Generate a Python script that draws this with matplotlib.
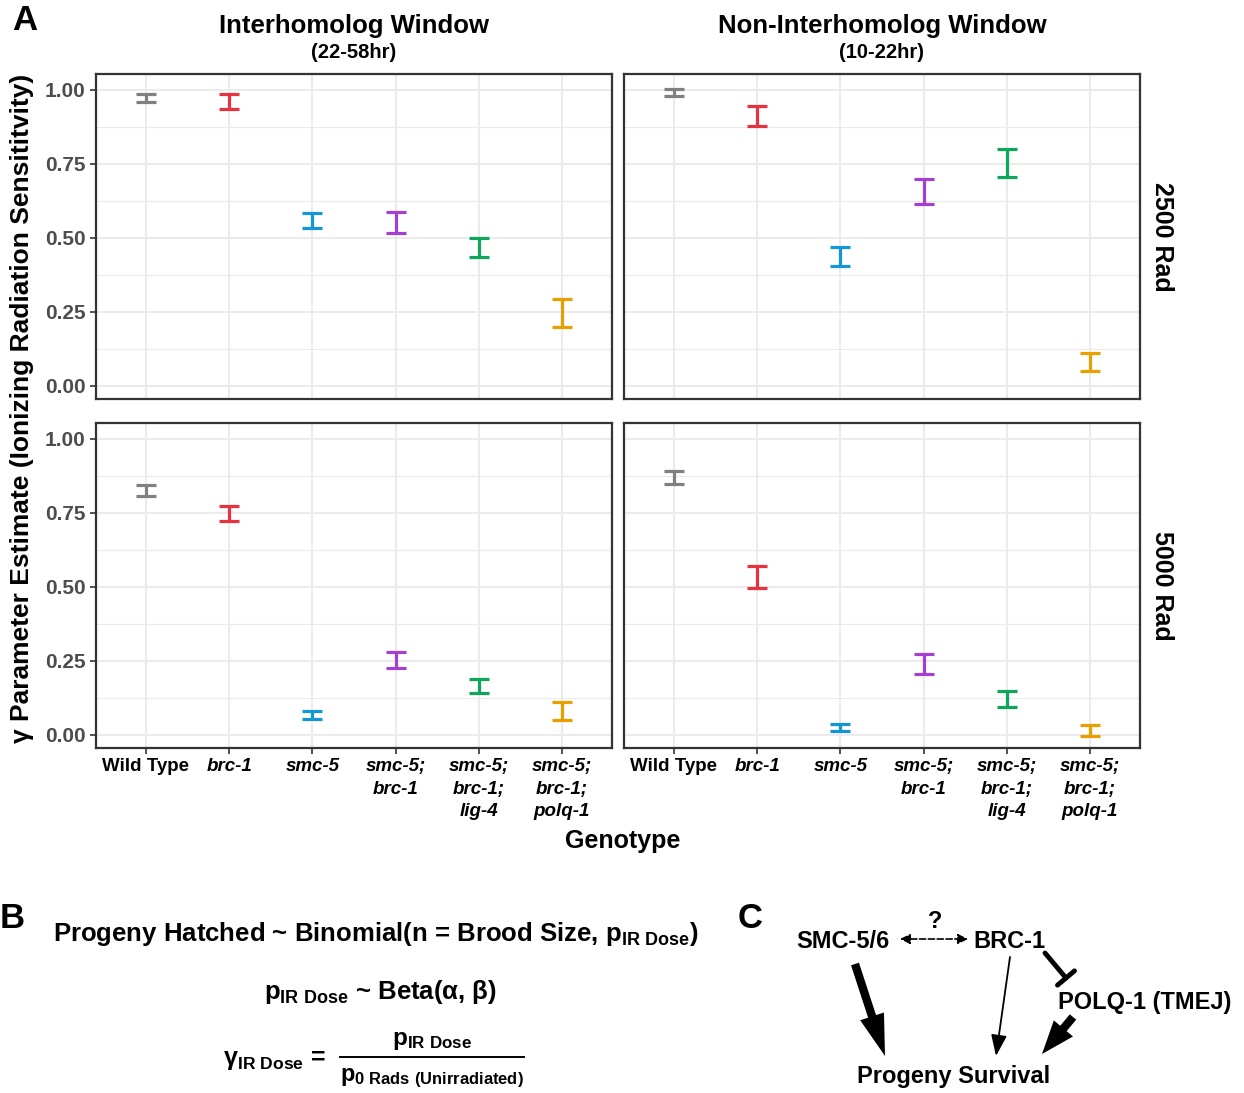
import numpy as np
import matplotlib
matplotlib.use("Agg")
from matplotlib import pyplot as plt

plt.rcParams['font.family'] = ['Liberation Sans', 'DejaVu Sans']
plt.rcParams['font.weight'] = 'bold'
plt.rcParams['mathtext.fontset'] = 'custom'
plt.rcParams['mathtext.rm'] = 'Liberation Sans:bold'
plt.rcParams['mathtext.bf'] = 'Liberation Sans:bold'
plt.rcParams['mathtext.it'] = 'Liberation Sans:bold:italic'

# genotypes (x axis)
genotypes = ["Wild Type", "brc-1", "smc-5", "smc-5;\nbrc-1",
             "smc-5;\nbrc-1;\nlig-4", "smc-5;\nbrc-1;\npolq-1"]
colors = ["#808080", "#E8333F", "#1496D6", "#A53FD2", "#0DA65B", "#E8A000"]

windows = ["Interhomolog Window", "Non-Interhomolog Window"]
window_hours = ["(22-58hr)", "(10-22hr)"]
doses = ["2500 Rad", "5000 Rad"]

# credible interval bounds (lower, upper) per panel
ih_2500_lo = [0.958, 0.936, 0.534, 0.517, 0.435, 0.198]
ih_2500_hi = [0.986, 0.986, 0.585, 0.587, 0.500, 0.292]
nih_2500_lo = [0.978, 0.877, 0.404, 0.614, 0.704, 0.048]
nih_2500_hi = [1.001, 0.944, 0.470, 0.698, 0.800, 0.111]
ih_5000_lo = [0.808, 0.722, 0.053, 0.226, 0.140, 0.051]
ih_5000_hi = [0.844, 0.774, 0.080, 0.281, 0.189, 0.109]
nih_5000_lo = [0.847, 0.496, 0.011, 0.205, 0.092, -0.003]
nih_5000_hi = [0.891, 0.571, 0.035, 0.273, 0.149, 0.034]

panels = {(0, 0): (ih_2500_lo, ih_2500_hi), (0, 1): (nih_2500_lo, nih_2500_hi),
          (1, 0): (ih_5000_lo, ih_5000_hi), (1, 1): (nih_5000_lo, nih_5000_hi)}

W, H = 1244, 1093
fig = plt.figure(figsize=(W / 100, H / 100), dpi=100)

lefts = [96, 624]
tops = [74, 423]
pw, ph = 516, 325

for (r, c), (lo, hi) in panels.items():
    ax = fig.add_axes([lefts[c] / W, 1 - (tops[r] + ph) / H, pw / W, ph / H])
    lo = np.array(lo)
    hi = np.array(hi)
    x = np.arange(1, len(genotypes) + 1)
    for i in range(len(x)):
        ax.errorbar(x[i], (lo[i] + hi[i]) / 2, yerr=(hi[i] - lo[i]) / 2, fmt='none',
                    ecolor=colors[i], elinewidth=2.3, capsize=7.5, capthick=2.3, zorder=3)
    ax.set_xlim(0.4, 6.6)
    ax.set_ylim(-0.045, 1.053)
    ax.set_yticks([0, 0.25, 0.5, 0.75, 1.0])
    ax.set_yticks([0.125, 0.375, 0.625, 0.875], minor=True)
    ax.set_xticks(x)
    ax.grid(which='major', color='#EBEBEB', lw=1.4, zorder=0)
    ax.grid(which='minor', axis='y', color='#EBEBEB', lw=0.8, zorder=0)
    ax.set_axisbelow(True)
    for s in ax.spines.values():
        s.set_color('#333333')
        s.set_linewidth(1.6)
    ax.tick_params(which='minor', length=0)
    ax.tick_params(which='major', color='#333333', length=4, width=1.2,
                   labelcolor='#4D4D4D', labelsize=15)
    if c == 0:
        ax.set_yticklabels(["0.00", "0.25", "0.50", "0.75", "1.00"], fontweight='bold')
    else:
        ax.tick_params(axis='y', length=0, labelleft=False)
    if r == 1:
        ax.set_xticklabels(genotypes, fontsize=13.5, color='black', va='top',
                           linespacing=1.4)
        for j, lab in enumerate(ax.get_xticklabels()):
            if j > 0:
                lab.set_style('italic')
    else:
        ax.tick_params(axis='x', length=0, labelbottom=False)
    if r == 0:
        cx = (lefts[c] + pw / 2) / W
        fig.text(cx, 1 - 26 / H, windows[c], ha='center', va='center', fontsize=18.5)
        fig.text(cx, 1 - 52 / H, window_hours[c], ha='center', va='center', fontsize=14.5)
    if c == 1:
        fig.text(1162 / W, 1 - (tops[r] + ph / 2) / H, doses[r], rotation=270,
                 ha='center', va='center', fontsize=18)

fig.text(22 / W, 1 - 408 / H, "γ Parameter Estimate (Ionizing Radiation Sensititvity)",
         rotation=90, ha='center', va='center', fontsize=19)
fig.text(623 / W, 1 - 841 / H, "Genotype", ha='center', va='center', fontsize=18)

# overlay in pixel coordinates for panel letters, B and C
ov = fig.add_axes([0, 0, 1, 1])
ov.set_xlim(0, W)
ov.set_ylim(H, 0)
ov.axis('off')

ov.text(12, 20, "A", fontsize=25, ha='left', va='center')
ov.text(0, 918, "B", fontsize=25, ha='left', va='center')
ov.text(738, 918, "C", fontsize=25, ha='left', va='center')

# panel B
ov.text(53, 934, r"Progeny Hatched ~ Binomial(n = Brood Size, $\mathbf{p}_{\mathbf{IR\ Dose}}$)",
        fontsize=18.5, ha='left', va='center')
ov.text(380, 992, r"$\mathbf{p}_{\mathbf{IR\ Dose}}$ ~ Beta(α, β)",
        fontsize=18.5, ha='center', va='center')
ov.text(326, 1060, r"$\mathbf{γ}_{\mathbf{IR\ Dose}}$ =", fontsize=18, ha='right', va='center')
ov.plot([340, 524], [1057, 1057], color='black', lw=1.4)
ov.text(432, 1040, r"$\mathbf{p}_{\mathbf{IR\ Dose}}$", fontsize=17.5, ha='center', va='center')
ov.text(432, 1078, r"$\mathbf{p}_{\mathbf{0\ Rads\ (Unirradiated)}}$", fontsize=17,
        ha='center', va='center')

# panel C
ov.text(843, 941, "SMC-5/6", fontsize=17, ha='center', va='center')
ov.text(1009, 941, "BRC-1", fontsize=17, ha='center', va='center')
ov.text(935, 921, "?", fontsize=17, ha='center', va='center')
ov.text(1145, 1002, "POLQ-1 (TMEJ)", fontsize=17, ha='center', va='center')
ov.text(954, 1077, "Progeny Survival", fontsize=17, ha='center', va='center')

ov.annotate('', xy=(968, 939), xytext=(900, 939),
            arrowprops=dict(arrowstyle='<|-|>,head_length=0.5,head_width=0.25',
                            lw=1.2, ls='--', color='black', mutation_scale=12,
                            shrinkA=0, shrinkB=0))
ov.annotate('', xy=(885, 1056), xytext=(855, 964),
            arrowprops=dict(arrowstyle='simple,head_length=1.5,head_width=0.9,tail_width=0.3',
                            lw=0, fc='black', mutation_scale=20, shrinkA=0, shrinkB=0))
ov.annotate('', xy=(996, 1056), xytext=(1010, 957),
            arrowprops=dict(arrowstyle='-|>,head_length=0.8,head_width=0.3',
                            lw=1.3, color='black', mutation_scale=16, shrinkA=0, shrinkB=0))
ov.annotate('', xy=(1066, 978), xytext=(1045, 953),
            arrowprops=dict(arrowstyle='-[,widthB=0.4,lengthB=0',
                            lw=3.5, color='black', mutation_scale=20, shrinkA=0, shrinkB=0))
ov.annotate('', xy=(1042, 1054), xytext=(1073, 1017),
            arrowprops=dict(arrowstyle='simple,head_length=1.2,head_width=0.9,tail_width=0.3',
                            lw=0, fc='black', mutation_scale=20, shrinkA=0, shrinkB=0))

fig.savefig("out.png", dpi=100)
